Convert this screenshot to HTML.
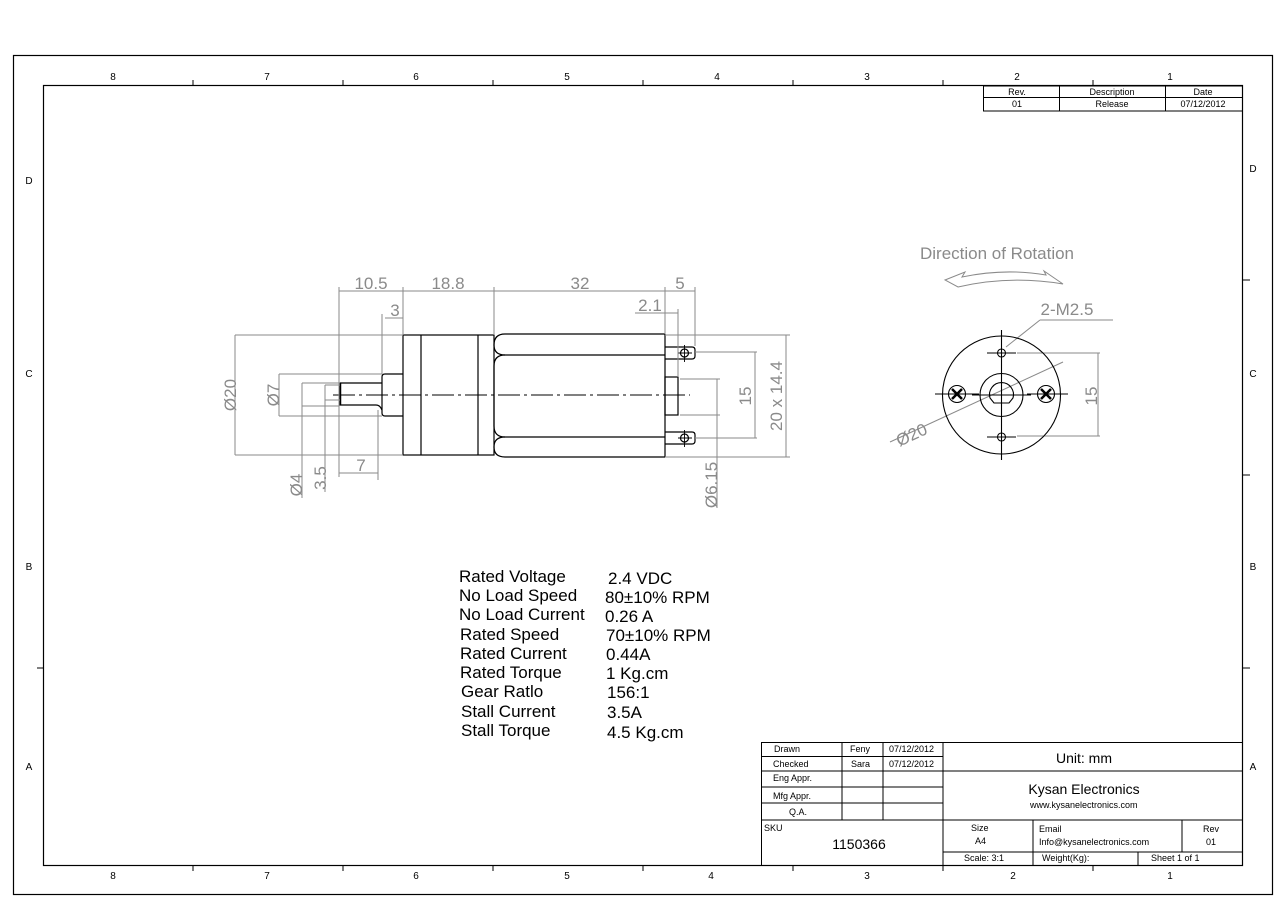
<!DOCTYPE html>
<html><head><meta charset="utf-8"><style>
html,body{margin:0;padding:0;background:#fff;}
svg{display:block;}
text{font-family:"Liberation Sans",Arial,sans-serif;}
</style></head><body>
<svg width="1286" height="909" viewBox="0 0 1286 909" xmlns="http://www.w3.org/2000/svg">
<rect width="1286" height="909" fill="#fff"/>
<!-- frames -->
<rect x="13.5" y="55.5" width="1259" height="839" fill="none" stroke="#000" stroke-width="1.2"/>
<rect x="43.5" y="85.5" width="1199" height="780" fill="none" stroke="#000" stroke-width="1.2"/>
<g stroke="#000" stroke-width="1">
<path d="M193 80V86M343 80V86M493 80V86M643 80V86M793 80V86M943 80V86M1093 80V86"/>
<path d="M193 865V871M343 865V871M493 865V871M643 865V871M793 865V871M943 865V871M1093 865V871"/>
<path d="M37 668H43M1242 280H1250M1242 475H1250M1242 668H1250"/>
</g>
<g font-size="10" fill="#000" text-anchor="middle">
<text x="113" y="80">8</text><text x="267" y="80">7</text><text x="416" y="80">6</text><text x="567" y="80">5</text><text x="717" y="80">4</text><text x="867" y="80">3</text><text x="1017" y="80">2</text><text x="1170" y="80">1</text>
<text x="113" y="879">8</text><text x="267" y="879">7</text><text x="416" y="879">6</text><text x="567" y="879">5</text><text x="711" y="879">4</text><text x="867" y="879">3</text><text x="1013" y="879">2</text><text x="1170" y="879">1</text>
<text x="29" y="184">D</text><text x="29" y="377">C</text><text x="29" y="570">B</text><text x="29" y="770">A</text>
<text x="1253" y="172">D</text><text x="1253" y="377">C</text><text x="1253" y="570">B</text><text x="1253" y="770">A</text>
</g>
<!-- rev table -->
<g stroke="#000" stroke-width="1" fill="none">
<rect x="983.5" y="86" width="259" height="25"/>
<path d="M983 97.5H1242M1059.5 86V111M1165.5 86V111"/>
</g>
<g font-size="9" text-anchor="middle" fill="#000">
<text x="1017" y="95">Rev.</text><text x="1112" y="95">Description</text><text x="1203" y="95">Date</text>
<text x="1017" y="107">01</text><text x="1112" y="107">Release</text><text x="1203" y="107">07/12/2012</text>
</g>

<!-- MOTOR side view -->
<g stroke="#000" stroke-width="1.2" fill="none">
<rect x="403" y="335" width="91" height="120"/>
<path d="M421 335V455M478 335V455"/>
<path d="M505 334H665M505 355H665M505 437H665M505 457H665M665 334V457"/>
<path d="M505 334Q494 334 494 345Q494 355 505 355"/>
<path d="M505 355Q494 355 494 366V426Q494 437 505 437"/>
<path d="M505 437Q494 437 494 447Q494 457 505 457"/>
<rect x="665" y="377" width="13" height="38"/>
<path d="M665 347H692Q695 347 695 350V356Q695 359 692 359H665"/>
<path d="M665 432H692Q695 432 695 435V441Q695 444 692 444H665"/>
<circle cx="684.5" cy="353" r="4"/><circle cx="684.5" cy="438" r="4"/>
<path d="M678 353H692M684.5 345V362M678 438H692M684.5 430V447" stroke-width="0.9"/>
<path d="M403 374H385Q382 374 382 377V413Q382 416 385 416H403"/>
<path d="M382 383H340V405H376Q380 405 382 410"/>
</g>
<path d="M340 383V405" stroke="#000" stroke-width="2.5"/>
<path d="M333 395H690" stroke="#000" stroke-width="1" stroke-dasharray="22,4,3,4"/>

<!-- dims side view -->
<g stroke="#8a8a8a" stroke-width="1" fill="none">
<path d="M339 291H695M339 287V477M403 287V335M494 287V335M665 287V334M695 287V346"/>
<path d="M385 318H403M382 314V374"/>
<path d="M635 313H678M678 309V377"/>
<path d="M235 335V455M235 335H403M235 455H403"/>
<path d="M279 374V416M279 374H382M279 416H382"/>
<path d="M302 383V498M302 383H340M302 406H339"/>
<path d="M325 385V492M325 385H340M325 400H340"/>
<path d="M339 473H378M378 410V480"/>
<path d="M717 379V508M680 379H720M680 415H720"/>
<path d="M755 352V438M695 352H757M695 438H757"/>
<path d="M786 335V457M665 335H790M665 457H790"/>
</g>
<g fill="#8a8a8a" font-size="17" text-anchor="middle">
<text x="371" y="289">10.5</text><text x="448" y="289">18.8</text><text x="580" y="289">32</text><text x="680" y="289">5</text>
<text x="395" y="316">3</text><text x="650" y="311">2.1</text><text x="361" y="471">7</text>
<text transform="translate(236,395) rotate(-90)">Ø20</text>
<text transform="translate(279,395) rotate(-90)">Ø7</text>
<text transform="translate(302,485) rotate(-90)">Ø4</text>
<text transform="translate(326,478) rotate(-90)">3.5</text>
<text transform="translate(717,485) rotate(-90)">Ø6.15</text>
<text transform="translate(751,396) rotate(-90)">15</text>
<text transform="translate(782,396) rotate(-90)">20 x 14.4</text>
</g>

<!-- end view -->
<text x="997" y="259" fill="#8a8a8a" font-size="17" text-anchor="middle">Direction of Rotation</text>
<path d="M945 280L965 272L962 277Q1005 268 1046 275L1044 271L1063 284Q1010 275 958 287Z" fill="none" stroke="#8a8a8a" stroke-width="1"/>
<text x="1067" y="315" fill="#8a8a8a" font-size="17" text-anchor="middle">2-M2.5</text>
<g stroke="#8a8a8a" stroke-width="1" fill="none">
<path d="M1040 320H1113M1040 320L1006 347"/>
<path d="M890 442L1063 362"/>
<path d="M1098 353V436M1017 353H1100M1017 436H1100"/>
</g>
<text transform="translate(914,440) rotate(-25)" fill="#8a8a8a" font-size="17" text-anchor="middle">Ø20</text>
<text transform="translate(1097,396) rotate(-90)" fill="#8a8a8a" font-size="17" text-anchor="middle">15</text>
<g stroke="#000" stroke-width="1.1" fill="none">
<circle cx="1001.5" cy="395" r="59"/>
<circle cx="1001.5" cy="395" r="21.5"/>
<path d="M990 398A12 12 0 1 1 1013 398L1009 403H994Z"/>
<circle cx="957" cy="394" r="8.5"/><circle cx="1046" cy="394" r="8.5"/>
<path d="M952 389L962 399M962 389L952 399M1041 389L1051 399M1051 389L1041 399" stroke-width="2.5"/>
<circle cx="1001.5" cy="353" r="4"/><circle cx="1001.5" cy="437" r="4"/>
<path d="M1001.5 365V427M972 395H1031M935 394H979M1027 394H1068M1001.5 330V372M987 353H1016M1001.5 425V460M987 437H1016"/>
</g>

<!-- specs -->
<g font-size="17" fill="#000">
<text x="459" y="582">Rated Voltage</text><text x="608" y="584">2.4 VDC</text>
<text x="459" y="601">No Load Speed</text><text x="605" y="603">80±10% RPM</text>
<text x="459" y="620">No Load Current</text><text x="605" y="622">0.26 A</text>
<text x="460" y="640">Rated Speed</text><text x="606" y="641">70±10% RPM</text>
<text x="460" y="659">Rated Current</text><text x="606" y="660">0.44A</text>
<text x="460" y="678">Rated Torque</text><text x="606" y="679">1 Kg.cm</text>
<text x="461" y="697">Gear Ratlo</text><text x="607" y="698">156:1</text>
<text x="461" y="717">Stall Current</text><text x="607" y="718">3.5A</text>
<text x="461" y="736">Stall Torque</text><text x="607" y="738">4.5 Kg.cm</text>
</g>

<!-- title block -->
<g stroke="#000" stroke-width="1" fill="none">
<rect x="761.5" y="742.5" width="481" height="123"/>
<path d="M761 756.5H943M761 771H1242M761 787H943M761 803H943M761 820H1242M943 852H1242"/>
<path d="M842 742V820M883 742V820M943 742V865M1033 820V865M1138 852V865M1182 820V852"/>
</g>
<g font-size="9" fill="#000">
<text x="774" y="752">Drawn</text><text x="773" y="767">Checked</text><text x="773" y="781">Eng Appr.</text><text x="773" y="799">Mfg Appr.</text><text x="789" y="815">Q.A.</text>
<text x="850" y="752">Feny</text><text x="851" y="767">Sara</text>
<text x="889" y="752">07/12/2012</text><text x="889" y="767">07/12/2012</text>
<text x="764" y="831">SKU</text>
<text x="971" y="831">Size</text><text x="975" y="844">A4</text>
<text x="1039" y="832">Email</text><text x="1039" y="845">Info@kysanelectronics.com</text>
<text x="1203" y="832">Rev</text><text x="1206" y="845">01</text>
<text x="964" y="861">Scale: 3:1</text><text x="1042" y="861">Weight(Kg):</text><text x="1151" y="861">Sheet 1 of 1</text>
<text x="1030" y="808" text-anchor="start">www.kysanelectronics.com</text>
</g>
<text x="1084" y="763" font-size="14" text-anchor="middle">Unit: mm</text>
<text x="1084" y="794" font-size="14" text-anchor="middle">Kysan Electronics</text>
<text x="859" y="849" font-size="14" text-anchor="middle">1150366</text>
</svg>
</body></html>
